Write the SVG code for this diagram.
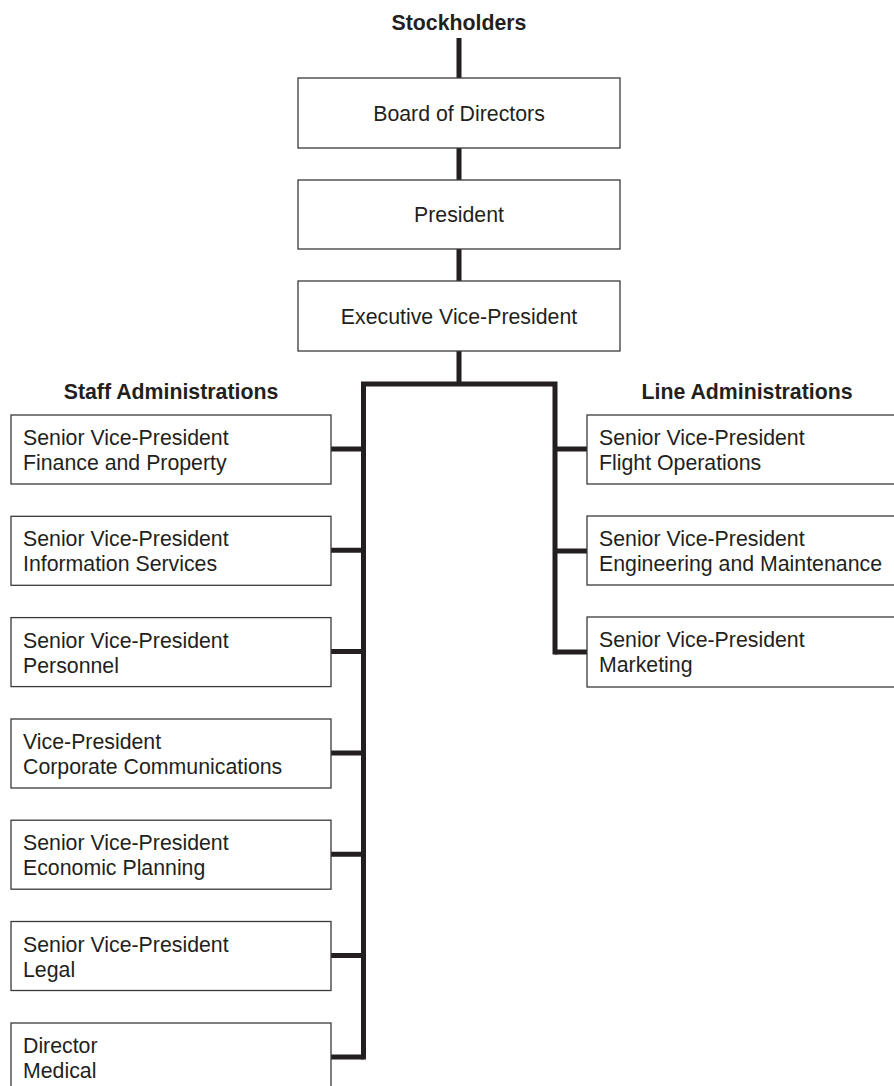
<svg xmlns="http://www.w3.org/2000/svg" width="894" height="1086" viewBox="0 0 894 1086">
  <style>
    .box { fill: #ffffff; stroke: #3a3a3a; stroke-width: 1.3; }
    .lbl { font-family: "Liberation Sans", Arial, sans-serif; font-size: 21.3px; fill: #231f20; }
    .mid { text-anchor: middle; }
    .head { font-family: "Liberation Sans", Arial, sans-serif; font-size: 21.3px; font-weight: bold; fill: #231f20; text-anchor: middle; }
    .wire { fill: none; stroke: #231f20; stroke-width: 5; stroke-linejoin: miter; stroke-linecap: butt; }
  </style>
  <rect width="894" height="1086" fill="#ffffff"/>

  <!-- connectors -->
  <g id="connectors">
    <path class="wire" d="M459 38 V78 M459 148 V180 M459 249 V281 M459 351 V384"/>
    <path class="wire" d="M363.5 1059.5 V384 H555 V654.5"/>
    <path class="wire" d="M331 449 H363.5 M331 550.3 H363.5 M331 651.6 H363.5 M331 753 H363.5 M331 854.2 H363.5 M331 955.5 H363.5 M331 1057 H363.5"/>
    <path class="wire" d="M555 449 H587 M555 551 H587 M555 652 H587"/>
  </g>

  <!-- top of the hierarchy -->
  <g id="stockholders">
    <text class="head" x="459" y="30">Stockholders</text>
  </g>
  <g id="board">
    <rect class="box" x="298" y="78" width="322" height="70"/>
    <text class="lbl mid" x="459" y="121">Board of Directors</text>
  </g>
  <g id="president">
    <rect class="box" x="298" y="180" width="322" height="69"/>
    <text class="lbl mid" x="459" y="222">President</text>
  </g>
  <g id="exec-vp">
    <rect class="box" x="298" y="281" width="322" height="70"/>
    <text class="lbl mid" x="459" y="324">Executive Vice-President</text>
  </g>

  <!-- staff administrations -->
  <g id="staff-heading">
    <text class="head" x="171" y="399">Staff Administrations</text>
  </g>
  <g id="svp-finance">
    <rect class="box" x="11" y="415" width="320" height="69"/>
    <text class="lbl" x="23" y="445">Senior Vice-President</text>
    <text class="lbl" x="23" y="470">Finance and Property</text>
  </g>
  <g id="svp-information">
    <rect class="box" x="11" y="516.3" width="320" height="69"/>
    <text class="lbl" x="23" y="546.3">Senior Vice-President</text>
    <text class="lbl" x="23" y="571.3">Information Services</text>
  </g>
  <g id="svp-personnel">
    <rect class="box" x="11" y="617.6" width="320" height="69"/>
    <text class="lbl" x="23" y="647.6">Senior Vice-President</text>
    <text class="lbl" x="23" y="672.6">Personnel</text>
  </g>
  <g id="vp-communications">
    <rect class="box" x="11" y="719" width="320" height="69"/>
    <text class="lbl" x="23" y="749">Vice-President</text>
    <text class="lbl" x="23" y="774">Corporate Communications</text>
  </g>
  <g id="svp-planning">
    <rect class="box" x="11" y="820.2" width="320" height="69"/>
    <text class="lbl" x="23" y="850.2">Senior Vice-President</text>
    <text class="lbl" x="23" y="875.2">Economic Planning</text>
  </g>
  <g id="svp-legal">
    <rect class="box" x="11" y="921.5" width="320" height="69"/>
    <text class="lbl" x="23" y="951.5">Senior Vice-President</text>
    <text class="lbl" x="23" y="976.5">Legal</text>
  </g>
  <g id="director-medical">
    <rect class="box" x="11" y="1023" width="320" height="69"/>
    <text class="lbl" x="23" y="1053">Director</text>
    <text class="lbl" x="23" y="1078">Medical</text>
  </g>

  <!-- line administrations -->
  <g id="line-heading">
    <text class="head" x="747" y="399">Line Administrations</text>
  </g>
  <g id="svp-flight">
    <rect class="box" x="587" y="415" width="320" height="69"/>
    <text class="lbl" x="599" y="445">Senior Vice-President</text>
    <text class="lbl" x="599" y="470">Flight Operations</text>
  </g>
  <g id="svp-engineering">
    <rect class="box" x="587" y="516" width="320" height="69"/>
    <text class="lbl" x="599" y="546">Senior Vice-President</text>
    <text class="lbl" x="599" y="571">Engineering and Maintenance</text>
  </g>
  <g id="svp-marketing">
    <rect class="box" x="587" y="617" width="320" height="70"/>
    <text class="lbl" x="599" y="647">Senior Vice-President</text>
    <text class="lbl" x="599" y="672">Marketing</text>
  </g>
</svg>
